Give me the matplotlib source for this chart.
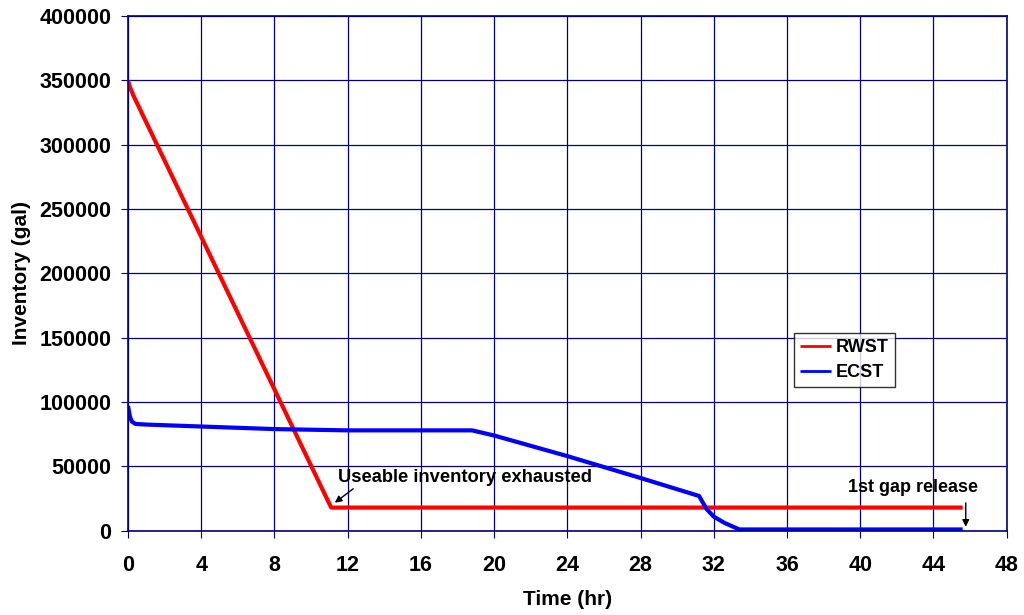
import matplotlib
matplotlib.use("Agg")
import matplotlib.pyplot as plt

# Data
rwst_t = [0.0, 0.1, 0.3, 11.1, 45.6]
rwst_v = [350000, 345000, 338000, 18000, 18000]

ecst_t = [0.0, 0.1, 0.2, 0.4, 1.0, 4.0, 8.0, 12.0, 18.8, 20.0, 24.0, 28.0, 31.2, 31.6, 32.0, 32.6, 33.4, 45.6]
ecst_v = [97000, 89000, 85000, 83000, 82500, 81000, 79000, 78000, 78000, 74000, 58000, 41000, 27000, 17000, 11000, 6000, 1000, 1000]

xticks = list(range(0, 49, 4))
yticks = list(range(0, 400001, 50000))

FONT = "Liberation Sans"

fig = plt.figure(figsize=(10.24, 6.15), dpi=100)
ax = fig.add_axes([0.125, 0.137, 0.858, 0.837])

ax.plot(rwst_t, rwst_v, color="#ff0000", lw=3, label="RWST", solid_capstyle="butt")
ax.plot(ecst_t, ecst_v, color="#0000ff", lw=3, label="ECST", solid_capstyle="butt")

ax.set_xlim(0, 48)
ax.set_ylim(0, 400000)
ax.set_xticks(xticks)
ax.set_yticks(yticks)
ax.set_xticklabels([str(x) for x in xticks])
ax.set_yticklabels([str(y) for y in yticks])
ax.grid(True, color="#000080", lw=0.9)
ax.set_axisbelow(True)
for s in ax.spines.values():
    s.set_color("#000080")
    s.set_linewidth(1.2)
ax.tick_params(axis="both", colors="black", labelsize=15.5, length=5, color="#000080")
ax.tick_params(axis="x", pad=12.5)
ax.tick_params(axis="y", pad=7)
for lab in ax.get_xticklabels() + ax.get_yticklabels():
    lab.set_fontweight("bold")
    lab.set_fontfamily(FONT)

ax.set_xlabel("Time (hr)", fontsize=15, fontweight="bold", family=FONT, labelpad=10)
ax.set_ylabel("Inventory (gal)", fontsize=15, fontweight="bold", family=FONT, labelpad=6)

ax.text(11.5, 35000, "Useable inventory exhausted", fontsize=13.2, fontweight="bold",
        family=FONT, ha="left", va="bottom")
ax.annotate("", xy=(11.3, 21750), xytext=(12.3, 32600),
            arrowprops=dict(arrowstyle="-|>", color="black", lw=1, shrinkA=0, shrinkB=0, mutation_scale=10))
ax.text(42.9, 27000, "1st gap release", fontsize=13, fontweight="bold",
        family=FONT, ha="center", va="bottom")
ax.annotate("", xy=(45.77, 3100), xytext=(45.77, 21700),
            arrowprops=dict(arrowstyle="-|>", color="black", lw=1, shrinkA=0, shrinkB=0, mutation_scale=10))

leg = ax.legend(loc="upper left", bbox_to_anchor=(0.758, 0.385), frameon=True, fancybox=False,
                prop=dict(size=13, weight="bold", family=FONT), handlelength=1.7,
                borderpad=0.35, labelspacing=0.45, handletextpad=0.25, borderaxespad=0)
leg.get_frame().set_edgecolor("black")
leg.get_frame().set_linewidth(1)
for line in leg.get_lines():
    line.set_linewidth(2)

fig.savefig("out.png", dpi=100, facecolor="white")
